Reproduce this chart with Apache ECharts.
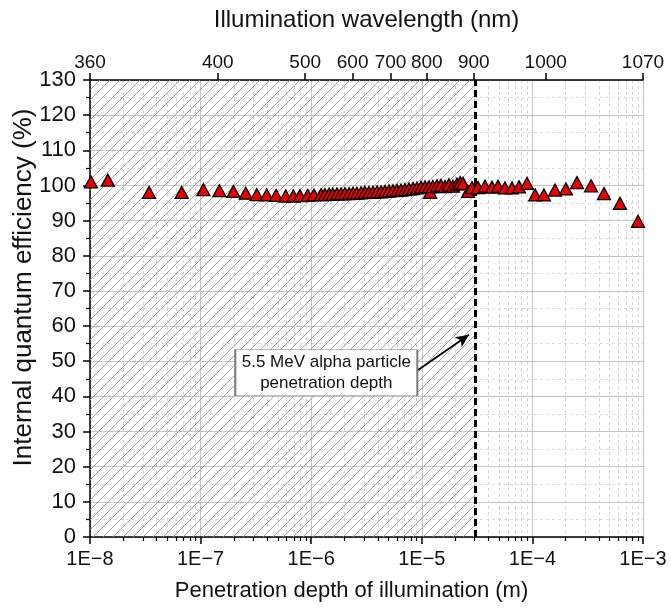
<!DOCTYPE html>
<html>
<head>
<meta charset="utf-8">
<script src="https://cdn.jsdelivr.net/npm/echarts@6/dist/echarts.min.js"></script>
<style>
  html, body { margin: 0; padding: 0; background: #fff; }
  #chart { width: 671px; height: 613px; }
</style>
</head>
<body>
<div id="chart"></div>
<script>
// penetration depth (m) and internal quantum efficiency (%)
const depth = [
  1.02e-8, 1.45e-8, 3.42e-8, 6.75e-8, 1.06e-7, 1.48e-7, 1.98e-7, 2.56e-7,
  3.22e-7, 3.96e-7, 4.81e-7, 5.88e-7, 6.89e-7, 7.92e-7, 9.30e-7, 1.06e-6,
  1.23e-6, 1.33e-6, 1.45e-6, 1.57e-6, 1.71e-6, 1.86e-6, 2.02e-6, 2.20e-6,
  2.39e-6, 2.59e-6, 2.82e-6, 3.06e-6, 3.33e-6, 3.62e-6, 3.94e-6, 4.28e-6,
  4.65e-6, 5.05e-6, 5.49e-6, 5.97e-6, 6.49e-6, 7.05e-6, 7.66e-6, 8.33e-6,
  9.05e-6, 9.84e-6, 1.07e-5, 1.16e-5, 1.19e-5, 1.26e-5, 1.37e-5, 1.49e-5,
  1.62e-5, 1.76e-5, 1.91e-5, 2.08e-5, 2.22e-5, 2.36e-5, 2.62e-5, 2.84e-5,
  3.22e-5, 3.73e-5, 4.31e-5, 4.89e-5, 5.65e-5, 6.54e-5, 7.57e-5, 8.94e-5,
  1.06e-4, 1.27e-4, 1.60e-4, 2.01e-4, 2.53e-4, 3.39e-4, 4.44e-4, 6.19e-4,
  9.01e-4
];
const iqe = [
  101.0, 101.5, 98.0, 98.0, 98.8, 98.5, 98.3, 97.8,
  97.4, 97.3, 97.2, 97.0, 97.0, 97.1, 97.2, 97.3,
  97.4, 97.4, 97.5, 97.5, 97.6, 97.6, 97.7, 97.7,
  97.8, 97.8, 97.9, 98.0, 98.0, 98.1, 98.2, 98.2,
  98.3, 98.4, 98.5, 98.6, 98.7, 98.8, 99.0, 99.1,
  99.3, 99.5, 99.6, 99.6, 98.0, 99.7, 99.9, 100.0,
  99.7, 100.2, 99.8, 100.4, 100.8, 100.6, 98.3, 99.4,
  99.4, 99.8, 99.5, 99.8, 99.3, 99.3, 99.6, 100.6,
  97.3, 97.3, 98.7, 99.0, 100.8, 99.9, 97.7, 94.9,
  89.8
];

// top axis: wavelength ticks placed at their penetration depth
const topTickLabels = [360, 400, 500, 600, 700, 800, 900, 1000, 1070];
const topTickDepths = [1e-8, 1.43e-7, 8.83e-7, 2.37e-6, 5.22e-6, 1.11e-5, 2.95e-5, 1.32e-4, 1e-3];

const alphaDepth = 3.05e-5;
const noteText = '5.5 MeV alpha particle\npenetration depth';
const notePos = [1.37e-6, 46.7];
const arrowFrom = [9.25e-6, 47.5];
const arrowTo = [2.67e-5, 57.5];

const FONT = "'Liberation Sans', Arial, sans-serif";

// minor ticks 2..9 within each decade
const minorTicks = [];
for (let e = -8; e < -3; e++) {
  for (let m = 2; m <= 9; m++) minorTicks.push(m * Math.pow(10, e));
}

function hatch() {
  const c = document.createElement('canvas');
  c.width = 10; c.height = 10;
  const ctx = c.getContext('2d');
  ctx.strokeStyle = '#9a9a9a';
  ctx.lineWidth = 0.9;
  ctx.beginPath();
  ctx.moveTo(-1, 11); ctx.lineTo(11, -1);
  ctx.moveTo(-1, 1); ctx.lineTo(1, -1);
  ctx.moveTo(9, 11); ctx.lineTo(11, 9);
  ctx.stroke();
  return c;
}

const chart = echarts.init(document.getElementById('chart'));

const option = {
  animation: false,
  textStyle: { fontFamily: FONT },
  grid: { left: 90, right: 28, top: 80, bottom: 76, outerBoundsMode: 'none' },
  xAxis: [
    {
      type: 'log', logBase: 10, min: 1e-8, max: 1e-3, position: 'bottom',
      name: 'Penetration depth of illumination (m)',
      nameLocation: 'middle', nameGap: 43,
      nameTextStyle: { fontSize: 22, color: '#111', fontFamily: FONT, padding: [0, 30, 0, 0] },
      axisLine: { lineStyle: { color: '#000', width: 1.5 } },
      axisTick: { inside: false, length: 7, lineStyle: { color: '#000', width: 1.5 } },
      axisLabel: {
        fontSize: 20, color: '#111', margin: 12, fontFamily: FONT,
        formatter: v => '1E\u2212' + Math.round(-Math.log10(v))
      },
      splitLine: { show: true, lineStyle: { color: '#c4c4c4', width: 1 } }
    },
    {
      type: 'log', logBase: 10, min: 1e-8, max: 1e-3, position: 'top',
      name: 'Illumination wavelength (nm)',
      nameLocation: 'middle', nameGap: 48,
      nameTextStyle: { fontSize: 24, color: '#111', fontFamily: FONT },
      axisLine: { lineStyle: { color: '#000', width: 1.5 } },
      axisTick: { length: 7, customValues: topTickDepths, lineStyle: { color: '#000', width: 1.5 } },
      axisLabel: {
        fontSize: 19, color: '#111', margin: 8, fontFamily: FONT,
        customValues: topTickDepths,
        formatter: v => {
          let best = 0;
          topTickDepths.forEach((d, i) => {
            if (Math.abs(Math.log10(d) - Math.log10(v)) < Math.abs(Math.log10(topTickDepths[best]) - Math.log10(v))) best = i;
          });
          return String(topTickLabels[best]);
        }
      },
      splitLine: { show: false }
    },
    {
      type: 'log', logBase: 10, min: 1e-8, max: 1e-3, position: 'bottom',
      axisLine: { show: false },
      axisTick: { length: 4, customValues: minorTicks, lineStyle: { color: '#000', width: 1.2 } },
      axisLabel: { show: false },
      splitLine: { show: true, lineStyle: { color: '#d4d4d4', width: 1, type: [3, 3] } }
    }
  ],
  yAxis: {
    type: 'value', min: 0, max: 130, interval: 10,
    name: 'Internal quantum efficiency (%)',
    nameLocation: 'middle', nameGap: 53, nameMoveOverlap: false,
    nameTextStyle: { fontSize: 26, color: '#111', fontFamily: FONT, padding: [0, 0, 0, 42] },
    axisLine: { show: true, lineStyle: { color: '#000', width: 1.5 } },
    axisTick: { show: true, length: 7, lineStyle: { color: '#000', width: 1.5 } },
    minorTick: { show: true, splitNumber: 2, length: 4, lineStyle: { color: '#000', width: 1.2 } },
    axisLabel: { fontSize: 22, color: '#111', margin: 14, fontFamily: FONT },
    splitLine: { show: true, lineStyle: { color: '#c4c4c4', width: 1 } },
    minorSplitLine: { show: true, lineStyle: { color: '#dcdcdc', width: 1, type: [3, 3] } }
  },
  series: [
    {
      type: 'scatter',
      xAxisIndex: 0,
      data: depth.map((d, i) => [d, iqe[i]]),
      symbol: 'triangle',
      symbolSize: [13, 12],
      itemStyle: { color: '#ee0000', borderColor: '#000', borderWidth: 1.3, opacity: 1 },
      z: 5,
      markArea: {
        silent: true,
        itemStyle: { color: { image: hatch(), repeat: 'repeat' } },
        data: [[{ xAxis: 1e-8, yAxis: 0 }, { xAxis: alphaDepth, yAxis: 130 }]]
      },
      markLine: {
        silent: true,
        symbol: ['none', 'none'],
        label: { show: false },
        data: [
          [
            { coord: [alphaDepth, 0], lineStyle: { color: '#000', width: 3, type: [7, 4] } },
            { coord: [alphaDepth, 130] }
          ],
          [
            { coord: arrowFrom, symbol: 'none', lineStyle: { color: '#000', width: 1.8, type: 'solid' } },
            { coord: arrowTo, symbol: 'arrow', symbolSize: [9, 13] }
          ]
        ]
      },
      markPoint: {
        silent: true,
        data: [{
          coord: notePos,
          symbol: 'rect',
          symbolSize: [182, 46],
          itemStyle: { color: '#fff', borderColor: '#7a7a7a', borderWidth: 1 },
          label: {
            show: true, position: 'inside', formatter: noteText,
            color: '#111', fontSize: 17, lineHeight: 21, fontFamily: FONT
          }
        }]
      }
    }
  ]
};

chart.setOption(option);
</script>
</body>
</html>
